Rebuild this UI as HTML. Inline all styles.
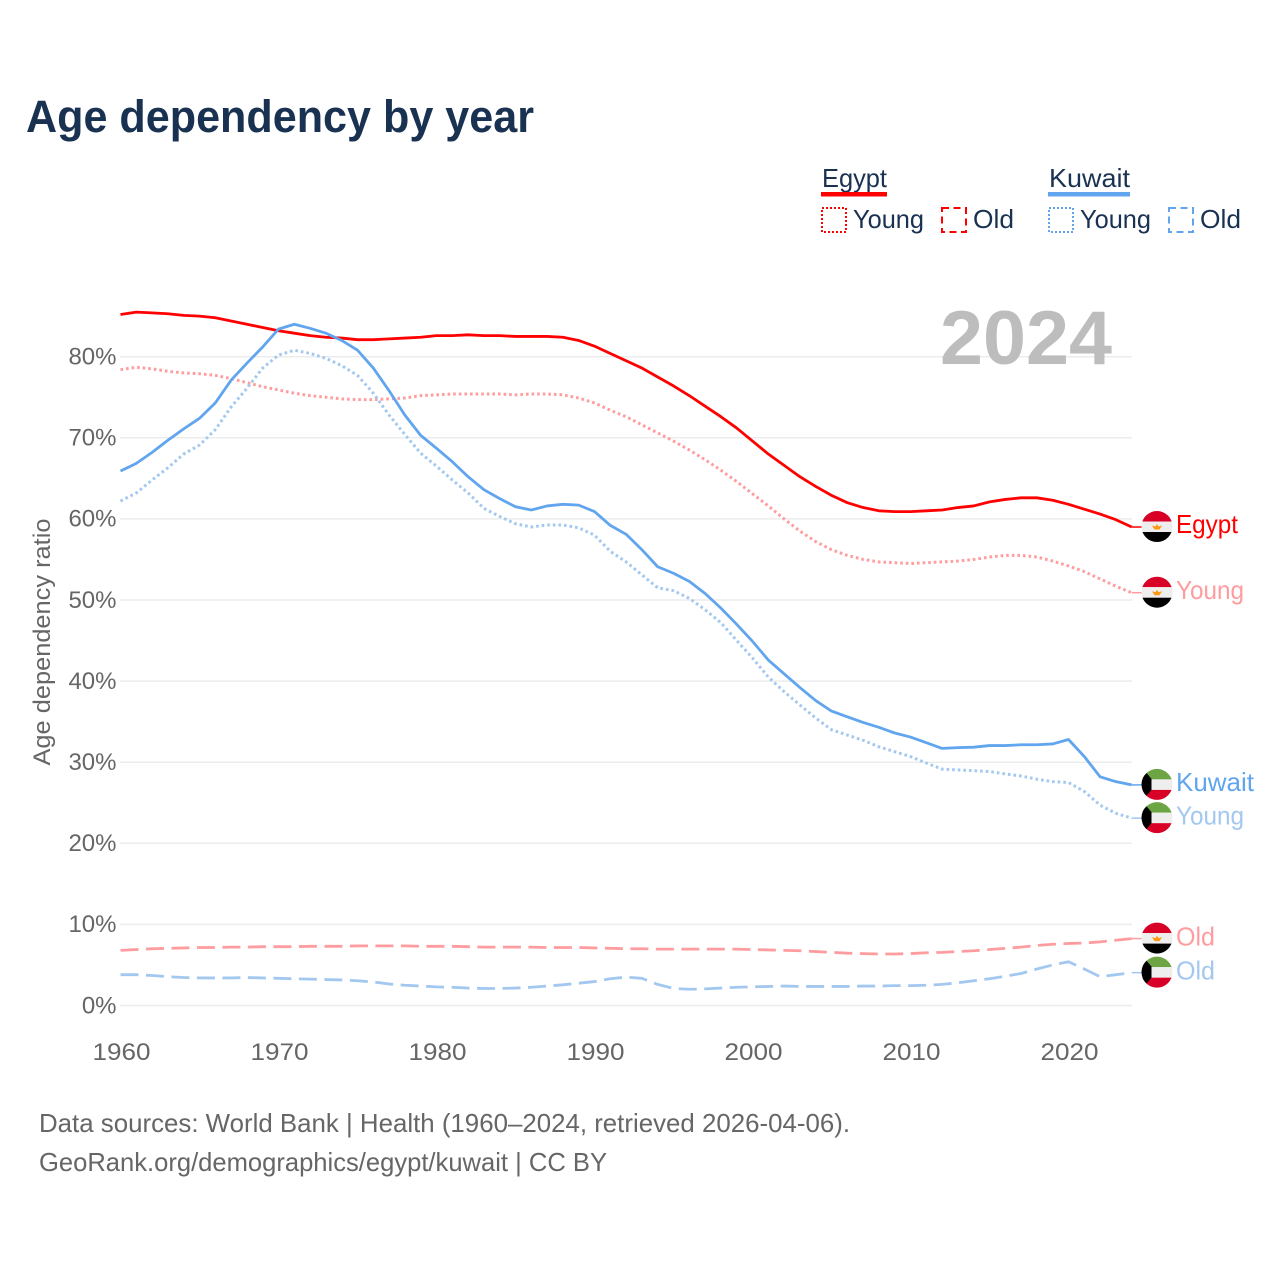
<!DOCTYPE html>
<html lang="en">
<head>
<meta charset="utf-8">
<title>Age dependency by year</title>
<style>
html,body{margin:0;padding:0;background:#fff;}
svg{display:block;font-family:"Liberation Sans",sans-serif;}
</style>
</head>
<body>
<svg id="chart" xmlns="http://www.w3.org/2000/svg" width="1280" height="1280" viewBox="0 0 1280 1280">
  <rect x="0" y="0" width="1280" height="1280" fill="#fff"/>
  <text x="26" y="132" font-size="45" font-weight="700" fill="#1a3252" textLength="508" lengthAdjust="spacingAndGlyphs">Age dependency by year</text>

  <g font-size="26" fill="#1a3252">
    <text x="822" y="187" textLength="65" lengthAdjust="spacingAndGlyphs">Egypt</text>
    <rect x="821" y="192" width="66" height="4.5" fill="#ff0000"/>
    <rect x="822" y="208" width="24" height="24" fill="none" stroke="#ff0000" stroke-width="2" stroke-dasharray="2 2"/>
    <text x="853" y="228" textLength="71" lengthAdjust="spacingAndGlyphs">Young</text>
    <rect x="942" y="208" width="24" height="24" fill="none" stroke="#ff0000" stroke-width="2" stroke-dasharray="7 4.5"/>
    <text x="973" y="228" textLength="41" lengthAdjust="spacingAndGlyphs">Old</text>
    <text x="1049" y="187" textLength="81" lengthAdjust="spacingAndGlyphs">Kuwait</text>
    <rect x="1048" y="192" width="82" height="4.5" fill="#60a5ee"/>
    <rect x="1049" y="208" width="24" height="24" fill="none" stroke="#60a5ee" stroke-width="2" stroke-dasharray="2 2"/>
    <text x="1080" y="228" textLength="71" lengthAdjust="spacingAndGlyphs">Young</text>
    <rect x="1169" y="208" width="24" height="24" fill="none" stroke="#60a5ee" stroke-width="2" stroke-dasharray="7 4.5"/>
    <text x="1200" y="228" textLength="41" lengthAdjust="spacingAndGlyphs">Old</text>
  </g>

  <g id="grid"></g>
  <text x="940" y="364" font-size="76" font-weight="700" fill="#bdbdbd" textLength="172" lengthAdjust="spacingAndGlyphs">2024</text>
  <g id="yticks" font-size="24" fill="#666" text-anchor="end"></g>
  <g id="xticks" font-size="24" fill="#666" text-anchor="middle"></g>
  <text transform="translate(50,642) rotate(-90)" font-size="24" fill="#666" text-anchor="middle" textLength="247" lengthAdjust="spacingAndGlyphs">Age dependency ratio</text>
  <g id="series" fill="none"></g>
  <g id="ends"></g>

  <g font-size="26" fill="#666">
    <text x="39" y="1132" textLength="811" lengthAdjust="spacingAndGlyphs">Data sources: World Bank | Health (1960–2024, retrieved 2026-04-06).</text>
    <text x="39" y="1171" textLength="568" lengthAdjust="spacingAndGlyphs">GeoRank.org/demographics/egypt/kuwait | CC BY</text>
  </g>
</svg>
<script>
const startYear = 1960;
const yTickValues = [0, 10, 20, 30, 40, 50, 60, 70, 80];
const xTickValues = [1960, 1970, 1980, 1990, 2000, 2010, 2020];
const egyptTotal = [85.2,85.5,85.4,85.3,85.1,85.0,84.8,84.4,84.0,83.6,83.2,82.9,82.6,82.4,82.3,82.1,82.1,82.2,82.3,82.4,82.6,82.6,82.7,82.6,82.6,82.5,82.5,82.5,82.4,82.0,81.3,80.4,79.5,78.6,77.5,76.4,75.2,73.9,72.6,71.2,69.6,68.0,66.6,65.2,64.0,62.9,62.0,61.4,61.0,60.9,60.9,61.0,61.1,61.4,61.6,62.1,62.4,62.6,62.6,62.3,61.8,61.2,60.6,59.9,59.0];
const egyptYoung = [78.4,78.7,78.5,78.2,78.0,77.9,77.7,77.3,76.8,76.3,75.9,75.5,75.2,75.0,74.8,74.7,74.7,74.8,74.9,75.2,75.3,75.4,75.4,75.4,75.4,75.3,75.4,75.4,75.3,74.9,74.3,73.4,72.6,71.6,70.6,69.6,68.5,67.3,66.0,64.6,63.1,61.6,60.0,58.5,57.2,56.2,55.5,55.0,54.7,54.6,54.5,54.6,54.7,54.8,55.0,55.3,55.5,55.5,55.3,54.8,54.2,53.5,52.6,51.7,50.9];
const egyptOld = [6.8,6.9,7.0,7.05,7.1,7.15,7.15,7.2,7.2,7.25,7.25,7.25,7.3,7.3,7.3,7.35,7.35,7.35,7.35,7.3,7.3,7.3,7.25,7.2,7.2,7.2,7.2,7.15,7.15,7.15,7.1,7.05,7.0,7.0,6.95,6.95,6.95,6.95,6.95,6.95,6.9,6.85,6.8,6.75,6.65,6.55,6.45,6.4,6.35,6.35,6.4,6.5,6.55,6.65,6.75,6.9,7.05,7.2,7.4,7.55,7.65,7.7,7.85,8.05,8.25];
const kuwaitTotal = [65.9,66.85,68.2,69.7,71.1,72.4,74.3,77.1,79.2,81.2,83.4,84.0,83.5,82.9,82.0,80.8,78.6,75.8,72.8,70.3,68.7,67.05,65.2,63.6,62.5,61.5,61.1,61.6,61.8,61.7,60.9,59.2,58.1,56.2,54.1,53.3,52.3,50.8,49.0,47.0,44.9,42.6,40.9,39.2,37.6,36.3,35.6,34.9,34.3,33.6,33.1,32.4,31.7,31.8,31.85,32.05,32.05,32.15,32.15,32.25,32.8,30.7,28.2,27.6,27.2];
const kuwaitYoung = [62.2,63.2,64.8,66.3,68.0,69.1,71.0,73.8,76.1,78.6,80.2,80.8,80.4,79.8,78.9,77.7,75.5,72.8,70.4,68.1,66.5,64.8,63.2,61.3,60.3,59.4,59.0,59.25,59.25,58.9,58.0,56.0,54.7,53.1,51.5,51.15,50.2,48.8,47.2,45.0,42.85,40.5,38.7,37.05,35.45,34.0,33.35,32.7,31.9,31.3,30.7,29.9,29.15,29.05,28.95,28.85,28.55,28.3,27.9,27.6,27.5,26.4,24.7,23.7,23.1];
const kuwaitOld = [3.8,3.8,3.7,3.55,3.45,3.4,3.4,3.4,3.45,3.4,3.35,3.3,3.25,3.2,3.15,3.05,2.9,2.65,2.5,2.4,2.3,2.25,2.15,2.1,2.1,2.15,2.25,2.4,2.55,2.75,2.95,3.3,3.5,3.35,2.6,2.1,2.0,2.05,2.15,2.25,2.3,2.35,2.4,2.35,2.35,2.35,2.35,2.4,2.4,2.45,2.45,2.5,2.6,2.8,3.05,3.3,3.6,3.95,4.5,5.0,5.4,4.5,3.55,3.8,4.05];

const NS = 'http://www.w3.org/2000/svg';
const xScale = function (year) { return 120.5 + (year - 1960) * 15.8; };
const yScale = function (value) { return 1005.5 - value * 8.11; };
function make(tag, attrs, parent) {
  const el = document.createElementNS(NS, tag);
  Object.keys(attrs).forEach(function (k) { el.setAttribute(k, attrs[k]); });
  parent.appendChild(el);
  return el;
}
const gridG = document.getElementById('grid');
const yG = document.getElementById('yticks');
const xG = document.getElementById('xticks');
const seriesG = document.getElementById('series');
const endsG = document.getElementById('ends');

yTickValues.forEach(function (v) {
  const line = make('line', {x1: 120, x2: 1132, y1: yScale(v), y2: yScale(v), stroke: '#ececec', 'stroke-width': 1.5}, gridG);
  
  
  const t = make('text', {x: 116.5, y: yScale(v) + 7.8}, yG);
  
  
  t.textContent = v + '%';
});
xTickValues.forEach(function (v) {
  const t = make('text', {x: xScale(v) + 1, y: 1060, textLength: 58, lengthAdjust: 'spacingAndGlyphs'}, xG);
  
  
  t.textContent = String(v);
});

const RED = '#ff0000', PINK = '#ff9c9f', BLUE = '#60a5ee', SKY = '#a3c8f0';
const DOT = '2.6 3', DASH = '18 7.5';
const seriesDefs = [
  {key: 'egypt-old', values: egyptOld, color: PINK, dash: DASH, width: 2.8, label: 'Old', country: 'egypt', labelWidth: 39, labelDy: 7},
  {key: 'kuwait-old', values: kuwaitOld, color: SKY, dash: DASH, width: 2.8, label: 'Old', country: 'kuwait', labelWidth: 39, labelDy: 7},
  {key: 'egypt-young', values: egyptYoung, color: PINK, dash: DOT, width: 3, label: 'Young', country: 'egypt', labelWidth: 68, labelDy: 6.5},
  {key: 'kuwait-young', values: kuwaitYoung, color: SKY, dash: DOT, width: 3, label: 'Young', country: 'kuwait', labelWidth: 68, labelDy: 6.5},
  {key: 'egypt-total', values: egyptTotal, color: RED, dash: '', width: 2.8, label: 'Egypt', country: 'egypt', labelWidth: 62, labelDy: 6},
  {key: 'kuwait-total', values: kuwaitTotal, color: BLUE, dash: '', width: 2.8, label: 'Kuwait', country: 'kuwait', labelWidth: 78, labelDy: 6}
];
seriesDefs.forEach(function (s) {
  const pts = s.values.map(function (v, i) { return xScale(startYear + i).toFixed(2) + ',' + yScale(v).toFixed(2); }).join(' ');
  const line = make('polyline', {points: pts, stroke: s.color, 'stroke-width': s.width, 'stroke-linejoin': 'round'}, seriesG);
  if (s.dash) { line.setAttribute('stroke-dasharray', s.dash); }
  
  

  const last = s.values[s.values.length - 1];
  const ly = yScale(last);
  const lastX = xScale(startYear + s.values.length - 1);
  const tail = make('line', {x1: lastX, x2: lastX + 10, y1: ly, y2: ly, stroke: s.color, 'stroke-width': 1.5}, endsG);
  
  

  const g = make('g', {transform: 'translate(1157,' + (ly - 0.5).toFixed(2) + ')'}, endsG);
  
  
  const clipId = 'clip-' + s.key;
  const clip = make('clipPath', {id: clipId}, g);
  make('circle', {cx: 0, cy: 0, r: 15.5}, clip);
  const f = make('g', {'clip-path': 'url(#' + clipId + ')'}, g);
  if (s.country === 'egypt') {
    make('rect', {x: -16, y: -16, width: 32, height: 11, fill: '#d80027'}, f);
    make('rect', {x: -16, y: -5, width: 32, height: 10.5, fill: '#eeeeee'}, f);
    make('rect', {x: -16, y: 5.5, width: 32, height: 11, fill: '#000000'}, f);
    make('polygon', {points: '-5,-1 -1.5,0 0,-2.5 1.5,0 5,-1 2.5,3 -2.5,3', fill: '#ff9811'}, f);
  } else {
    make('rect', {x: -16, y: -16, width: 32, height: 11, fill: '#6da544'}, f);
    make('rect', {x: -16, y: -5, width: 32, height: 10.5, fill: '#eeeeee'}, f);
    make('rect', {x: -16, y: 5.5, width: 32, height: 11, fill: '#d80027'}, f);
    make('polygon', {points: '-16,-16 -11,-12 -5.5,-5.5 -5.5,5.5 -11,12 -16,16', fill: '#000000'}, f);
  }
  const t = make('text', {x: 1176, y: ly + s.labelDy, 'font-size': 26, fill: s.color, textLength: s.labelWidth, lengthAdjust: 'spacingAndGlyphs'}, endsG);
  
  
  t.textContent = s.label;
});
</script>
</body>
</html>
